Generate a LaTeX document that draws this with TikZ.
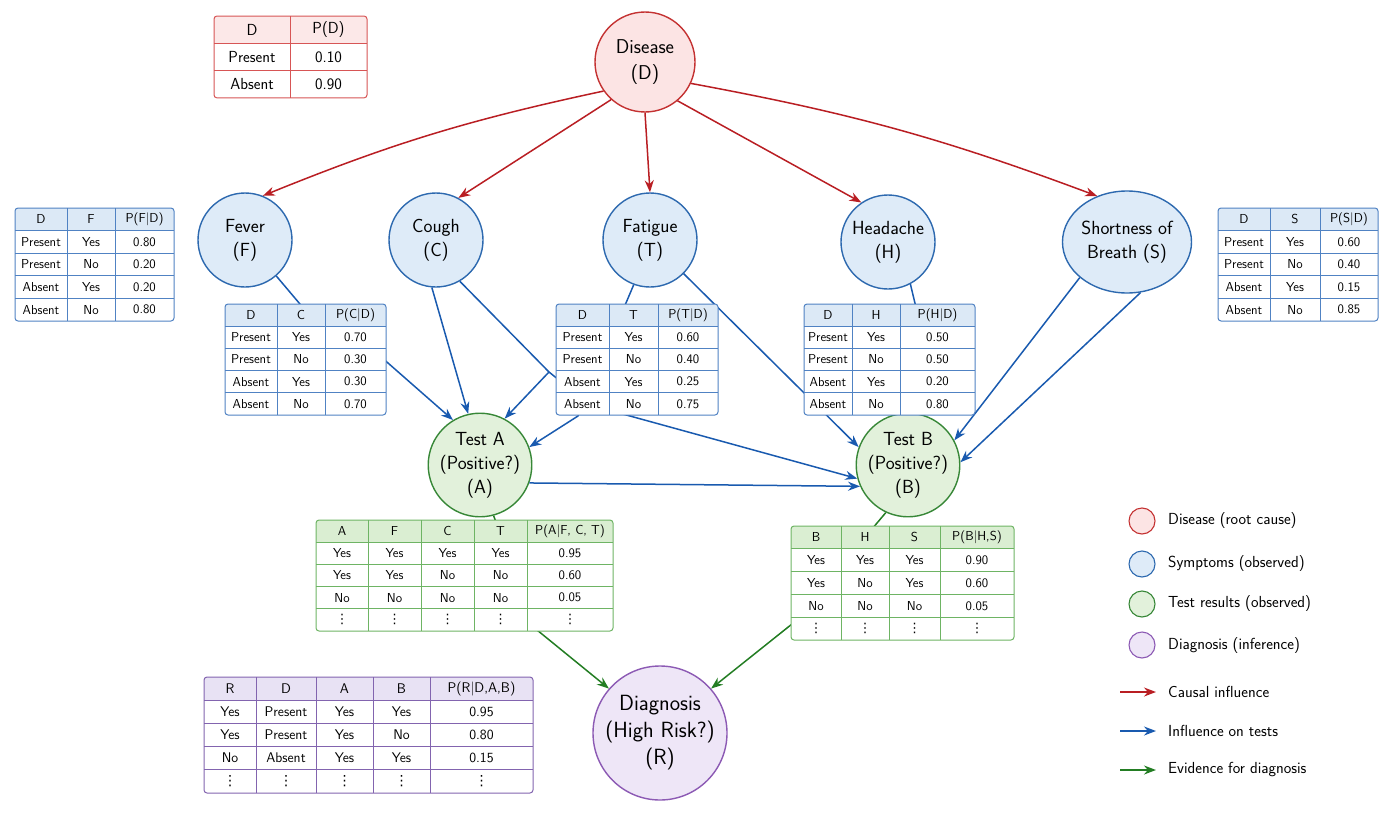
\documentclass[tikz,border=0pt]{standalone}
\usepackage{fontspec}
\usetikzlibrary{arrows.meta,shapes.geometric}
\renewcommand{\familydefault}{\sfdefault}
\newfontfamily\dotsfont{DejaVu Sans}
\newcommand{\vd}{{\dotsfont ⋮}}

\definecolor{dred}{RGB}{196,50,50}
\definecolor{dredfill}{RGB}{252,228,228}
\definecolor{sblue}{RGB}{45,105,175}
\definecolor{sbluefill}{RGB}{222,235,248}
\definecolor{tgreen}{RGB}{55,135,55}
\definecolor{tgreenfill}{RGB}{226,241,219}
\definecolor{dpurple}{RGB}{140,90,180}
\definecolor{dpurplefill}{RGB}{238,230,247}
\definecolor{cred}{RGB}{185,30,35}
\definecolor{cblue}{RGB}{25,90,175}
\definecolor{cgreen}{RGB}{35,125,35}
\definecolor{tblue}{RGB}{80,130,195}
\definecolor{tgrn}{RGB}{110,180,100}
\definecolor{tpur}{RGB}{130,100,175}
\definecolor{tred}{RGB}{215,85,85}
\definecolor{hblue}{RGB}{220,233,246}
\definecolor{hgreen}{RGB}{218,238,210}
\definecolor{hpurple}{RGB}{232,226,244}
\definecolor{hred}{RGB}{252,232,232}

\tikzset{
  bnnode/.style={circle, line width=1.4pt, align=center, inner sep=0pt, font=\fontsize{19}{24}\selectfont},
  rootnode/.style={bnnode, draw=dred, fill=dredfill, minimum size=100, font=\fontsize{20}{26}\selectfont},
  symnode/.style={bnnode, draw=sblue, fill=sbluefill, minimum size=94},
  testnode/.style={bnnode, draw=tgreen, fill=tgreenfill, minimum size=100},
  diagnode/.style={bnnode, draw=dpurple, fill=dpurplefill, minimum size=134, font=\fontsize{22}{27}\selectfont},
  causal/.style={->, draw=cred, line width=1.5pt},
  totest/.style={->, draw=cblue, line width=1.5pt},
  evid/.style={->, draw=cgreen, line width=1.5pt},
  celltext/.style={font=\fontsize{13}{15}\selectfont, inner sep=0pt},
  legtext/.style={anchor=west, font=\fontsize{16}{18}\selectfont, inner sep=0pt},
}

% CPT table: #1 line colour, #2 header fill, #3 column edges, #4 top, #5 row height, #6 header, #7 rows
\newcommand{\cpt}[7]{%
  \pgfmathtruncatemacro\nedge{dim({#3})}%
  \pgfmathsetmacro\xl{{#3}[0]}%
  \pgfmathsetmacro\xr{{#3}[\nedge-1]}%
  \foreach \rw [count=\k] in {#7} {\xdef\nrow{\k}}%
  \pgfmathsetmacro\yb{#4+(\nrow+1)*#5}%
  \begin{scope}
    \clip[rounded corners=3] (\xl,#4) rectangle (\xr,\yb);
    \fill[white] (\xl,#4) rectangle (\xr,\yb);
    \fill[#2] (\xl,#4) rectangle (\xr,#4+#5);
  \end{scope}
  \foreach \k in {1,...,\nrow} {\draw[#1,line width=0.7pt] (\xl,#4+\k*#5) -- (\xr,#4+\k*#5);}
  \pgfmathtruncatemacro\ninner{\nedge-2}%
  \foreach \cc in {1,...,\ninner} {\pgfmathsetmacro\xc{{#3}[\cc]}\draw[#1,line width=0.7pt] (\xc,#4) -- (\xc,\yb);}
  \draw[#1,line width=1pt,rounded corners=3] (\xl,#4) rectangle (\xr,\yb);
  \foreach \hd [count=\cc from 0] in {#6} {%
    \pgfmathsetmacro\xa{{#3}[\cc]}\pgfmathsetmacro\xb{{#3}[\cc+1]}%
    \node[celltext] at ({(\xa+\xb)/2},#4+#5/2) {\hd};}
  \foreach \rw [count=\rr] in {#7} {\foreach \cl [count=\cc from 0] in \rw {%
    \pgfmathsetmacro\xa{{#3}[\cc]}\pgfmathsetmacro\xb{{#3}[\cc+1]}%
    \node[celltext] at ({(\xa+\xb)/2},#4+\rr*#5+#5/2) {\cl};}}%
}

\begin{document}
\begin{tikzpicture}[x=1pt, y=-1pt, >={Stealth[length=12pt,width=9pt]}]
\useasboundingbox (0,0) rectangle (1400,835);

% variables
\node[rootnode] (D) at (645,62) {Disease\\(D)};
\node[symnode] (F) at (245,240) {Fever\\(F)};
\node[symnode] (C) at (436,240) {Cough\\(C)};
\node[symnode] (T) at (650,240) {Fatigue\\(T)};
\node[symnode] (H) at (888,242) {Headache\\(H)};
\node[symnode, ellipse, minimum width=128, minimum height=102] (S) at (1127,242) {Shortness of\\Breath (S)};
\node[testnode] (A) at (480,465) {Test A\\(Positive?)\\(A)};
\node[testnode] (B) at (908,465) {Test B\\(Positive?)\\(B)};
\node[diagnode] (R) at (660,733) {Diagnosis\\(High Risk?)\\(R)};

% causal influence
\draw[causal] (D.215) to[bend right=5] (F.68);
\draw[causal] (D.228) -- (C.62);
\draw[causal] (D.-90) -- (T.90);
\draw[causal] (D.-50) -- (H.124);
\draw[causal] (D.-25) to[bend left=5] (S.123);

% influence on tests
\coordinate (fa1) at (305,310);
\coordinate (fa2) at (380,356);
\draw[totest] (F.-49) -- (fa1) -- (fa2) -- (A.121);
\draw[totest] (C.265) -- (A.103);
\coordinate (split) at (549,372);
\coordinate (cb) at (590,405);
\draw[totest] (C.-60) -- (split) -- (cb) -- (B.195);
\draw[totest] (split) -- (A.62);
\coordinate (ta) at (578,416);
\draw[totest] (T.250) -- (ta) -- (A.20);
\draw[totest] (T.-45) -- (B.160);
\coordinate (hb) at (925,345);
\draw[cblue, line width=1.5pt] (H.-62) -- (hb);
\draw[totest] (S.-143) -- (B.28);
\draw[totest] (S.-75) -- (B.3);
\draw[totest] (A.-20) -- (B.204);

% evidence for diagnosis
\coordinate (ar) at (537,630);
\draw[evid] (A.-75) -- (ar) -- (R.139);
\coordinate (br) at (792,624);
\draw[evid] (B.-115) -- (br) -- (R.41);

% tables
\begin{scope}[celltext/.append style={font=\fontsize{16}{18}\selectfont}]
\cpt{tred}{hred}{214,290,367}{16}{27.3}{D,P(D)}{{Present,0.10},{Absent,0.90}}
\end{scope}
\cpt{tblue}{hblue}{15,67,115,174}{208}{22.6}{D,F,P(F|D)}{{Present,Yes,0.80},{Present,No,0.20},{Absent,Yes,0.20},{Absent,No,0.80}}
\cpt{tblue}{hblue}{225,277,325,386}{304}{22.2}{D,C,P(C|D)}{{Present,Yes,0.70},{Present,No,0.30},{Absent,Yes,0.30},{Absent,No,0.70}}
\cpt{tblue}{hblue}{556,609,658,718}{304}{22.2}{D,T,P(T|D)}{{Present,Yes,0.60},{Present,No,0.40},{Absent,Yes,0.25},{Absent,No,0.75}}
\cpt{tblue}{hblue}{804,852,900,975}{304}{22.2}{D,H,P(H|D)}{{Present,Yes,0.50},{Present,No,0.50},{Absent,Yes,0.20},{Absent,No,0.80}}
\cpt{tblue}{hblue}{1218,1270,1320,1378}{208}{22.6}{D,S,P(S|D)}{{Present,Yes,0.60},{Present,No,0.40},{Absent,Yes,0.15},{Absent,No,0.85}}
\cpt{tgrn}{hgreen}{316,368,421,474,527,613}{520}{22.2}{A,F,C,T,{P(A|F, C, T)}}{{Yes,Yes,Yes,Yes,0.95},{Yes,Yes,No,No,0.60},{No,No,No,No,0.05},{\vd,\vd,\vd,\vd,\vd}}
\cpt{tgrn}{hgreen}{791,841,889,940,1014}{526}{22.8}{B,H,S,{P(B|H,S)}}{{Yes,Yes,Yes,0.90},{Yes,No,Yes,0.60},{No,No,No,0.05},{\vd,\vd,\vd,\vd}}
\begin{scope}[celltext/.append style={font=\fontsize{14}{16}\selectfont}]
\cpt{tpur}{hpurple}{204,256,316,373,430,533}{677}{23.2}{R,D,A,B,{P(R|D,A,B)}}{{Yes,Present,Yes,Yes,0.95},{Yes,Present,Yes,No,0.80},{No,Absent,Yes,Yes,0.15},{\vd,\vd,\vd,\vd,\vd}}
\end{scope}

% legend
\node[rootnode, minimum size=26, line width=1.1pt] (k1) at (1142,521) {};
\node[legtext] (k1t) at (1168,521) {Disease (root cause)};
\node[symnode, minimum size=26, line width=1.1pt] (k2) at (1142,564) {};
\node[legtext] (k2t) at (1168,564) {Symptoms (observed)};
\node[testnode, minimum size=26, line width=1.1pt] (k3) at (1142,604) {};
\node[legtext] (k3t) at (1168,604) {Test results (observed)};
\node[diagnode, minimum size=26, line width=1.1pt] (k4) at (1142,645) {};
\node[legtext] (k4t) at (1168,645) {Diagnosis (inference)};
\coordinate (k5) at (1120,692);
\draw[causal] (k5) -- ++(36,0);
\node[legtext] (k5t) at (1168,692) {Causal influence};
\coordinate (k6) at (1120,731);
\draw[totest] (k6) -- ++(36,0);
\node[legtext] (k6t) at (1168,731) {Influence on tests};
\coordinate (k7) at (1120,770);
\draw[evid] (k7) -- ++(36,0);
\node[legtext] (k7t) at (1168,770) {Evidence for diagnosis};
\end{tikzpicture}
\end{document}
